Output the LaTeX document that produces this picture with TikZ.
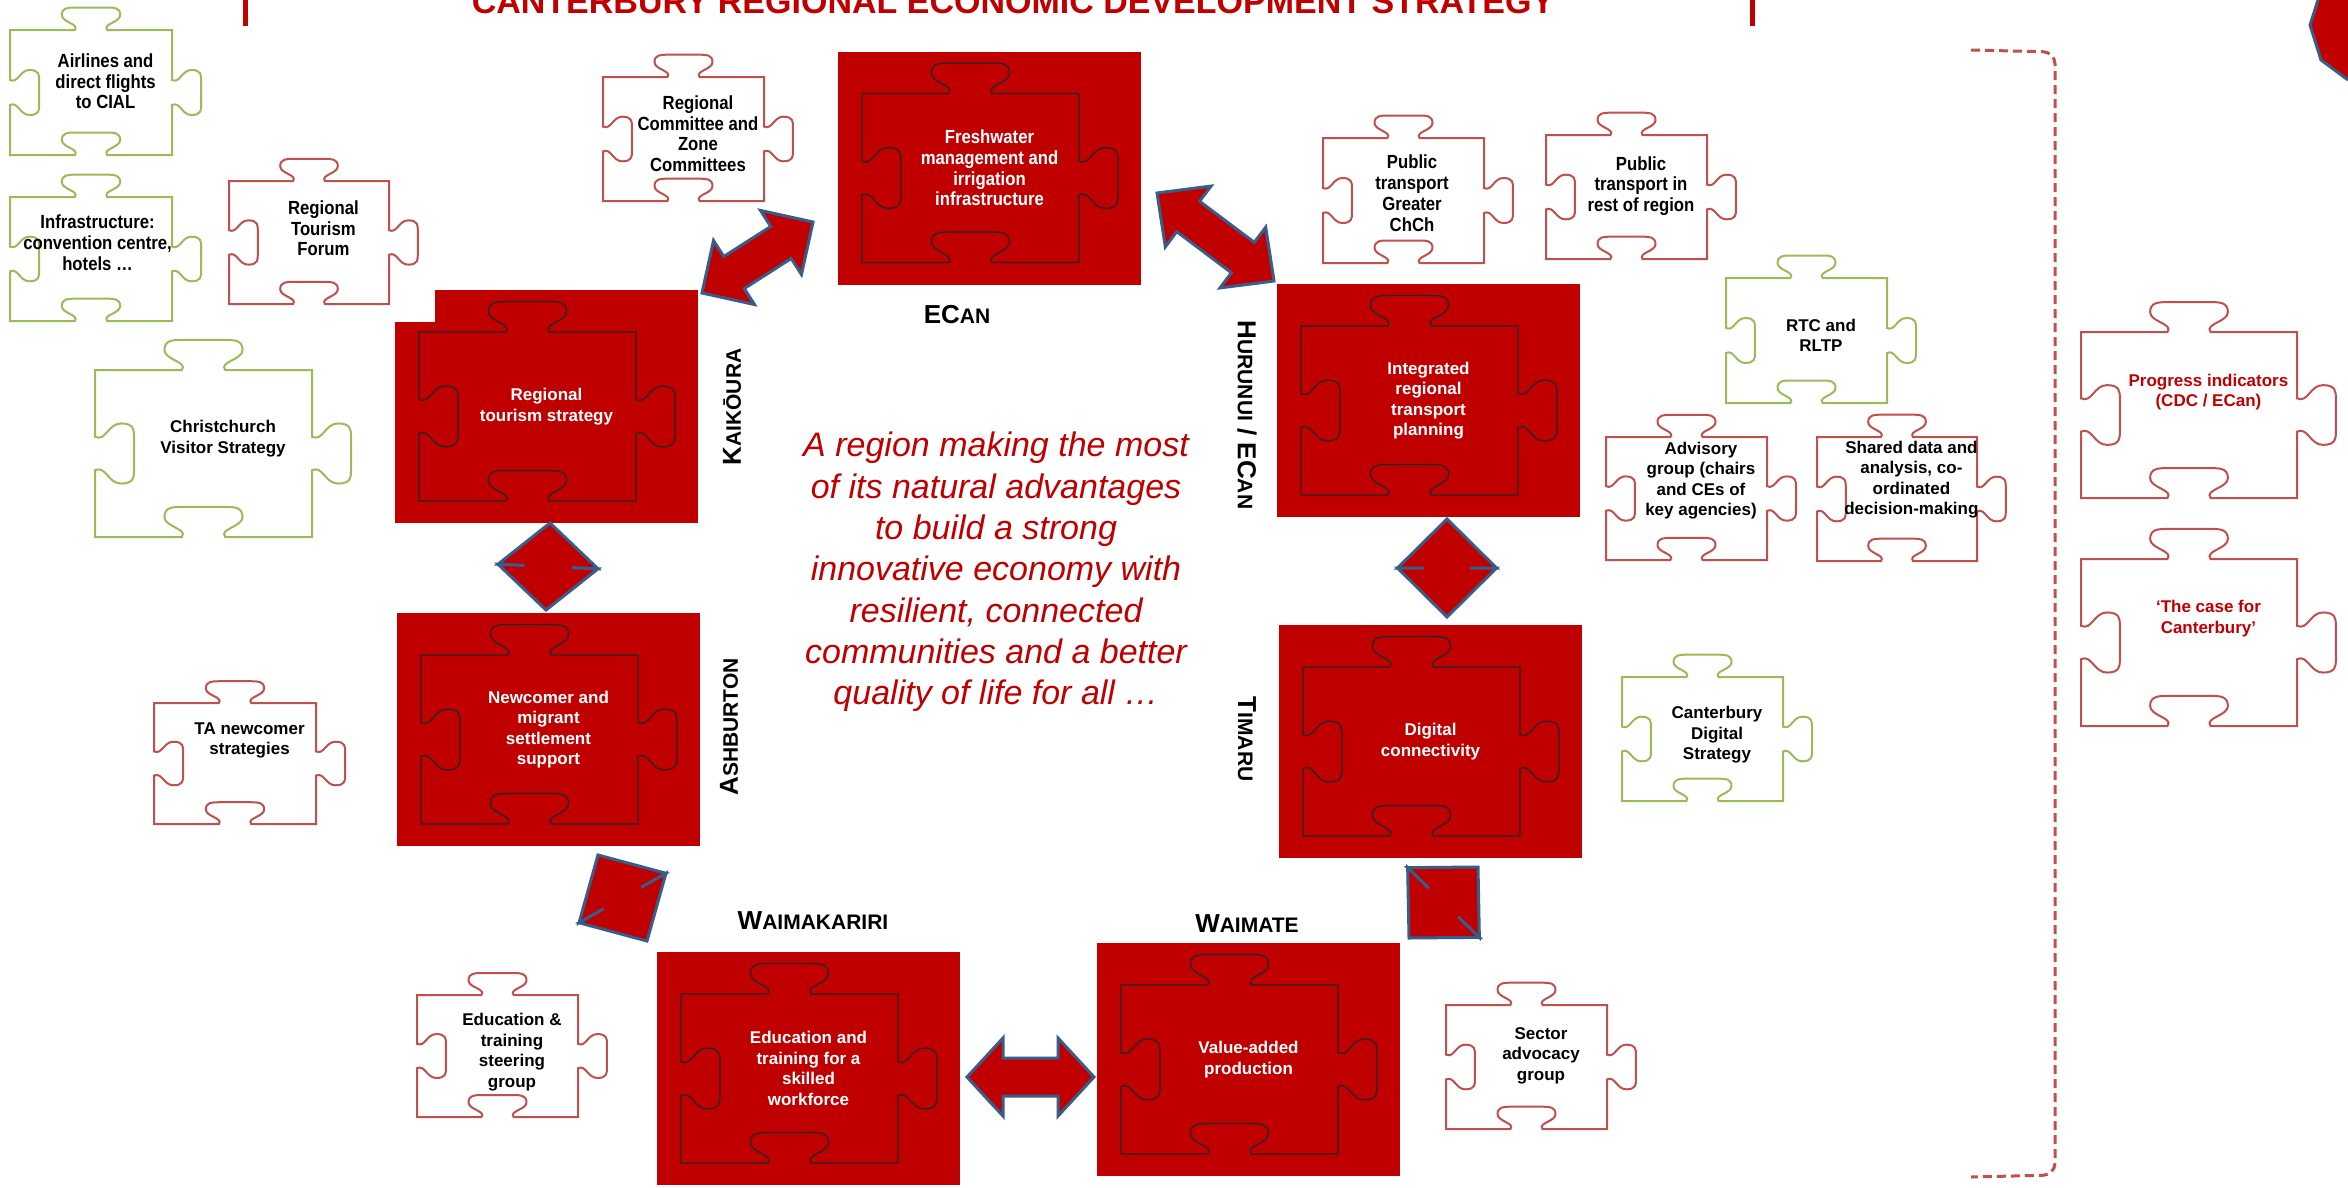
\documentclass[tikz,border=0pt]{standalone}
\usepackage{fontspec}
\setmainfont{Liberation Sans}
\newfontfamily\narrowfont{Liberation Sans}[FakeStretch=0.88]
\usetikzlibrary{calc}

\definecolor{cred}{RGB}{192,0,0}
\definecolor{pred}{RGB}{192,80,77}
\definecolor{pgreen}{RGB}{155,187,89}
\definecolor{ablue}{RGB}{56,93,138}

\tikzset{
  gline/.style={draw=pgreen, line width=2pt},
  rline/.style={draw=pred, line width=2pt},
  inline/.style={draw=black!85, line width=1.3pt},
  btext/.style={align=center, inner sep=0pt, font=\bfseries\fontsize{17}{20.5}\selectfont},
  ntext/.style={align=center, inner sep=0pt, font=\narrowfont\bfseries\fontsize{19}{20.7}\selectfont},
  rtext/.style={btext, text=cred},
  redbox/.style={fill=cred, minimum width=303pt, minimum height=233pt, inner sep=0pt, align=center, text=white},
  lab/.style={inner sep=0pt, font=\bfseries\fontsize{26}{30}\selectfont},
  fatarrow/.style={fill=cred, draw=ablue, line width=3pt, line join=miter},
}

% one puzzle piece, unit square, y pointing down
\newcommand{\puzzlepath}{(0,0) -- (0.40,0) .. controls (0.43,-0.05) and (0.32,-0.06) .. (0.32,-0.12)
  .. controls (0.32,-0.18) and (0.36,-0.18) .. (0.40,-0.18) -- (0.60,-0.18)
  .. controls (0.64,-0.18) and (0.68,-0.18) .. (0.68,-0.12) .. controls (0.68,-0.06) and (0.57,-0.05) .. (0.60,0)
  -- (1,0) -- (1,0.40) .. controls (1.05,0.43) and (1.06,0.32) .. (1.12,0.32)
  .. controls (1.18,0.32) and (1.18,0.36) .. (1.18,0.40) -- (1.18,0.60)
  .. controls (1.18,0.64) and (1.18,0.68) .. (1.12,0.68) .. controls (1.06,0.68) and (1.05,0.57) .. (1,0.60)
  -- (1,1) -- (0.60,1) .. controls (0.57,0.95) and (0.68,0.94) .. (0.68,0.88)
  .. controls (0.68,0.82) and (0.64,0.82) .. (0.60,0.82) -- (0.40,0.82)
  .. controls (0.36,0.82) and (0.32,0.82) .. (0.32,0.88) .. controls (0.32,0.94) and (0.43,0.95) .. (0.40,1)
  -- (0,1) -- (0,0.60) .. controls (0.05,0.57) and (0.06,0.68) .. (0.12,0.68)
  .. controls (0.18,0.68) and (0.18,0.64) .. (0.18,0.60) -- (0.18,0.40)
  .. controls (0.18,0.36) and (0.18,0.32) .. (0.12,0.32) .. controls (0.06,0.32) and (0.05,0.43) .. (0,0.40) -- cycle}

% outline piece: line style, text style, name, x, y, w, h, text
\newcommand{\piece}[8]{%
  \draw[#1, shift={(#4,#5)}, xscale=#6, yscale=#7] \puzzlepath;
  \node[#2] (#3) at ({#4+0.59*#6},{#5+0.41*#7}) {#8};}

% red piece: name, cx, cy, text style, text
\newcommand{\redpiece}[5]{%
  \node[redbox, #4] (#1) at (#2,#3) {#5};
  \draw[inline, shift={({#2-127.5},{#3-74.5})}, xscale=217, yscale=169] \puzzlepath;}

% double arrow: tip, tip, head length, head half width, shaft half width
\newcommand{\fatarrow}[5]{%
  \draw[fatarrow] (#1) -- ($(#1)!#3!(#2)!#4!90:(#2)$) -- ($(#1)!#3!(#2)!#5!90:(#2)$)
    -- ($(#2)!#3!(#1)!#5!-90:(#1)$) -- ($(#2)!#3!(#1)!#4!-90:(#1)$) -- (#2)
    -- ($(#2)!#3!(#1)!#4!90:(#1)$) -- ($(#2)!#3!(#1)!#5!90:(#1)$)
    -- ($(#1)!#3!(#2)!#5!-90:(#2)$) -- ($(#1)!#3!(#2)!#4!-90:(#2)$) -- cycle;}

\newcommand{\smc}[2]{{\fontsize{26}{30}\selectfont #1}{\fontsize{21}{30}\selectfont #2}}

\begin{document}
\begin{tikzpicture}[x=1pt,y=-1pt]
\useasboundingbox (0,0) rectangle (2348,1187);
\fill[white] (0,0) rectangle (2348,1187);

% title
\node[anchor=base, text=cred, font=\bfseries\fontsize{34}{40}\selectfont] (title) at (1013,13)
  {CANTERBURY REGIONAL ECONOMIC DEVELOPMENT STRATEGY};
\draw[cred, line width=5pt] (245,0) -- (245,26);
\draw[cred, line width=5pt] (1752,0) -- (1752,26);

% red pieces
\redpiece{fresh}{989.5}{168}{ntext}{Freshwater\\management and\\irrigation\\infrastructure}
\redpiece{tour}{546.5}{406.5}{btext}{Regional\\tourism strategy}
\fill[white] (394,289) rectangle (435,322);
\redpiece{newc}{548.5}{729.5}{btext}{Newcomer and\\migrant\\settlement\\support}
\redpiece{integ}{1428.5}{400.5}{btext}{Integrated\\regional\\transport\\planning}
\redpiece{digit}{1430.5}{741.5}{btext}{Digital\\connectivity}
\redpiece{educ}{808.5}{1068.5}{btext}{Education and\\training for a\\skilled\\workforce}
\redpiece{value}{1248.5}{1059.5}{btext}{Value-added\\production}

% outline pieces
\piece{gline}{ntext}{airl}{10}{30}{162}{125}{Airlines and\\direct flights\\to CIAL}
\piece{gline}{ntext,xshift=-8pt,yshift=5pt}{infra}{10}{197}{162}{124}{Infrastructure:\\convention centre,\\hotels …}
\piece{rline}{ntext,yshift=3pt}{forum}{229}{181}{160}{123}{Regional\\Tourism\\Forum}
\piece{rline}{ntext,yshift=-6pt}{zone}{603}{77}{161}{124}{Regional\\Committee and\\Zone\\Committees}
\piece{gline}{btext}{chvis}{95}{370}{217}{167}{Christchurch\\Visitor Strategy}
\piece{rline}{btext,yshift=12pt}{tanew}{154}{703}{162}{121}{TA newcomer\\strategies}
\piece{rline}{btext,yshift=-7pt}{edsteer}{417}{995}{161}{122}{Education \&\\training\\steering\\group}
\piece{rline}{ntext,xshift=-6pt,yshift=-4pt}{ptchch}{1323}{138}{161}{125}{Public\\transport\\Greater\\ChCh}
\piece{rline}{ntext}{ptrest}{1546}{135}{161}{124}{Public\\transport in\\rest of region}
\piece{gline}{btext,yshift=-6pt}{rtc}{1726}{278}{161}{125}{RTC and\\RLTP}
\piece{rline}{btext,yshift=7pt}{advis}{1606}{437}{161}{123}{Advisory\\group (chairs\\and CEs of\\key agencies)}
\piece{rline}{btext,yshift=8pt}{shared}{1817}{437}{160}{124}{Shared data and\\analysis, co-\\ordinated\\decision-making}
\piece{gline}{btext,yshift=-7pt}{cdig}{1622}{677}{161}{124}{Canterbury\\Digital\\Strategy}
\piece{rline}{btext}{sector}{1446}{1005}{161}{124}{Sector\\advocacy\\group}
\piece{rline}{rtext,yshift=8pt}{progr}{2081}{332}{216}{166}{Progress indicators\\(CDC / ECan)}
\piece{rline}{rtext,yshift=9pt}{case}{2081}{559}{216}{167}{‘The case for\\Canterbury’}

% district labels
\node[lab] (ecan) at (957,315) {\smc{EC}{AN}};
\node[lab, rotate=90] (kaik) at (732,407) {\smc{K}{AIKŌURA}};
\node[lab, rotate=90] (ashb) at (729,727) {\smc{A}{SHBURTON}};
\node[lab, rotate=-90] (huru) at (1247,415) {\smc{H}{URUNUI}~/~\smc{EC}{AN}};
\node[lab, rotate=-90] (tima) at (1247,739) {\smc{T}{IMARU}};
\node[lab] (waimak) at (813,921) {\smc{W}{AIMAKARIRI}};
\node[lab] (waimat) at (1247,924) {\smc{W}{AIMATE}};

% vision
\node[align=center, inner sep=0pt, text=cred, font=\itshape\fontsize{34}{41.3}\selectfont] (vision) at (996,572)
  {A region making the most\\of its natural advantages\\to build a strong\\innovative economy with\\resilient, connected\\communities and a better\\quality of life for all …};

% arrows between pieces
\coordinate (a1s) at (702,293);  \coordinate (a1e) at (813,222);
\coordinate (a2s) at (1157,193); \coordinate (a2e) at (1274,281);
\coordinate (a3s) at (967,1077); \coordinate (a3e) at (1094,1077);
\coordinate (d1s) at (550,523);  \coordinate (d1e) at (546,610);
\coordinate (d2s) at (1447,519); \coordinate (d2e) at (1447,617);
\coordinate (d3s) at (598,855);  \coordinate (d3e) at (647,941);
\coordinate (d4s) at (1478,867); \coordinate (d4e) at (1409,938);
\fatarrow{a1s}{a1e}{38pt}{38pt}{19pt}
\fatarrow{a2s}{a2e}{39pt}{38pt}{19pt}
\fatarrow{a3s}{a3e}{36pt}{39pt}{19pt}
\fatarrow{d1s}{d1e}{43.5pt}{50pt}{25pt}
\fatarrow{d2s}{d2e}{49pt}{49.5pt}{23pt}
\fatarrow{d3s}{d3e}{49.5pt}{50pt}{23pt}
\fatarrow{d4s}{d4e}{49.5pt}{50pt}{22pt}

% bracket round the right column
\coordinate (brt) at (1971,50);
\coordinate (brb) at (1971,1177);
\draw[pred, line width=3pt, dash pattern=on 9pt off 5pt, rounded corners=12pt]
  (brt) -- (2055,52) -- (2055,1175) -- (brb);

% arrow cut by the page edge
\fill[cred] (2318,0) -- (2310,25) -- (2321,60) -- (2348,80) -- (2348,0) -- cycle;
\draw[ablue, line width=3pt] (2318,0) -- (2310,25) -- (2321,60) -- (2348,80);
\end{tikzpicture}
\end{document}
